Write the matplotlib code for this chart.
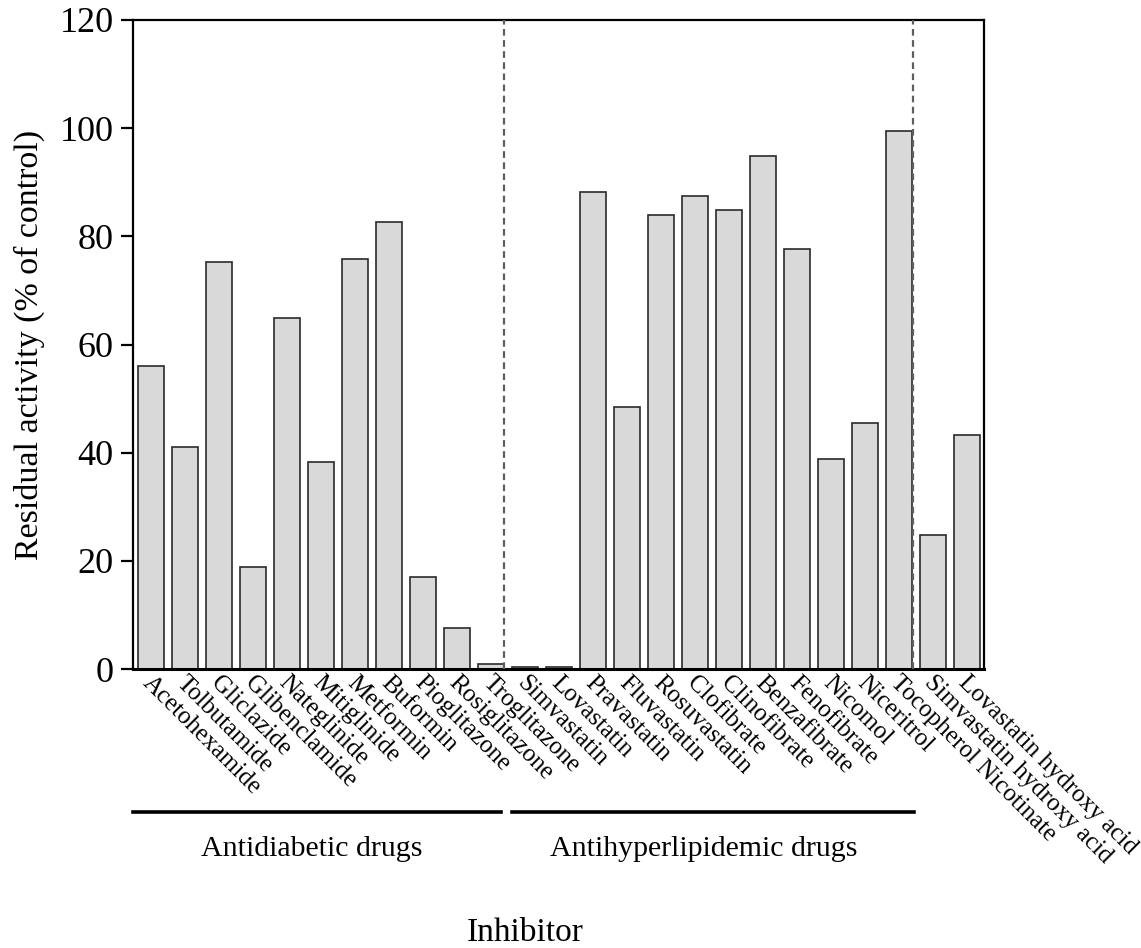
import matplotlib
matplotlib.use("Agg")
import matplotlib.pyplot as plt
import matplotlib.transforms as mtransforms
import numpy as np

plt.rcParams['font.family'] = ['Liberation Serif', 'DejaVu Serif']

inhibitors = ["Acetohexamide", "Tolbutamide", "Gliclazide", "Glibenclamide",
              "Nateglinide", "Mitiglinide", "Metformin", "Buformin",
              "Pioglitazone", "Rosiglitazone", "Troglitazone",
              "Simvastatin", "Lovastatin", "Pravastatin", "Fluvastatin",
              "Rosuvastatin", "Clofibrate", "Clinofibrate", "Benzafibrate",
              "Fenofibrate", "Nicomol", "Niceritrol", "Tocopherol Nicotinate",
              "Simvastatin hydroxy acid", "Lovastatin hydroxy acid"]
activity = [56.0, 41.0, 75.2, 18.8, 64.9, 38.2, 75.8, 82.6, 17.0, 7.5, 1.0,
            0.4, 0.4, 88.2, 48.4, 84.0, 87.4, 84.8, 94.9, 77.7, 38.9, 45.5,
            99.5, 24.7, 43.3]
yticks = [0, 20, 40, 60, 80, 100, 120]
groups = ["Antidiabetic drugs", "Antihyperlipidemic drugs"]

fig = plt.figure(figsize=(11.41, 9.48), dpi=100)
ax = fig.add_axes([133/1141, 1-669/948, (984-133)/1141, (669-20)/948])

x = np.arange(len(inhibitors))
ax.bar(x, activity, width=0.77, color='#d9d9d9', edgecolor='#2a2a2a',
       linewidth=1.2, zorder=2)

ax.set_xlim(-0.53, 24.5)
ax.set_ylim(0, 120)
ax.set_yticks(yticks)
ax.set_yticklabels([str(v) for v in yticks], fontsize=26)
ax.tick_params(axis='y', direction='out', length=9, width=1.6, pad=5)
ax.tick_params(axis='x', length=0, pad=2)
for s in ax.spines.values():
    s.set_linewidth(1.6)
ax.spines['bottom'].set_linewidth(2.2)

ax.set_xticks(x)
ax.set_xticklabels(inhibitors, fontsize=18, rotation=-45, ha='left',
                   va='top', rotation_mode='anchor')
offset = mtransforms.ScaledTranslation(3/100, 0, fig.dpi_scale_trans)
for lbl in ax.get_xticklabels():
    lbl.set_transform(lbl.get_transform() + offset)

ax.set_ylabel("Residual activity (% of control)", fontsize=24.5)
ax.yaxis.set_label_coords(-(133-45)/851, 0.50)

# dashed separators
for sep in [10.38, 22.4]:
    ax.axvline(sep, color='#5e5e5e', linestyle=(0, (3, 2)), linewidth=1.6,
               zorder=3)

# group lines and labels
trans = mtransforms.blended_transform_factory(ax.transData, fig.transFigure)
y_line = 1 - 812/948
ax.plot([-0.53, 10.3], [y_line, y_line], color='black', linewidth=2.6,
        transform=trans, clip_on=False)
ax.plot([10.62, 22.45], [y_line, y_line], color='black', linewidth=2.6,
        transform=trans, clip_on=False)
y_txt = 1 - 849/948
ax.text(4.74, y_txt, groups[0], transform=trans, ha='center', va='center',
        fontsize=21.5)
ax.text(16.26, y_txt, groups[1], transform=trans, ha='center', va='center',
        fontsize=21.5)

fig.text(525/1141, 1-941/948, "Inhibitor", ha='center', va='baseline',
         fontsize=24)

fig.savefig("out.png", dpi=100)
